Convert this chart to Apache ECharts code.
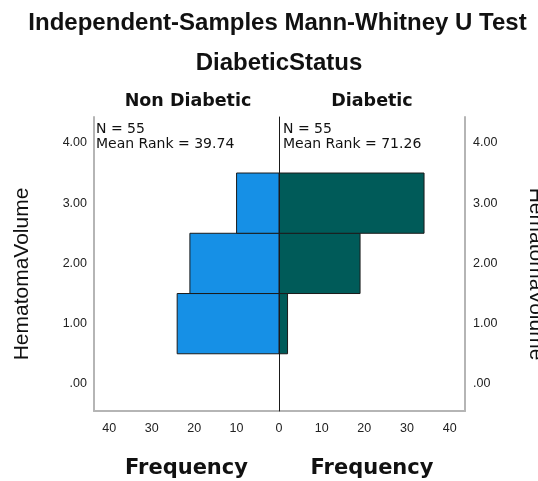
<!DOCTYPE html>
<html>
<head>
<meta charset="utf-8">
<script src="https://cdn.jsdelivr.net/npm/echarts@6/dist/echarts.min.js"></script>
<style>html,body{margin:0;padding:0;background:#fff;}#c{width:538px;height:481px;}</style>
</head>
<body>
<div id="c"></div>
<script>
// Data
var volumes = [1, 2, 3];                 // HematomaVolume categories (bar centres)
var nonDiabeticFreq = [24, 21, 10];      // Non Diabetic frequencies
var diabeticFreq = [2, 19, 34];          // Diabetic frequencies
var yTickValues = [0, 1, 2, 3, 4];
var groupNames = ['Non Diabetic', 'Diabetic'];
var groupN = [55, 55];
var meanRanks = ['39.74', '71.26'];

var FONT = "'Liberation Sans', Arial, sans-serif";
var WIDE = "'DejaVu Sans', 'Liberation Sans', sans-serif";
var chart = echarts.init(document.getElementById('c'));

function makeData(freqs) {
  return volumes.map(function (v, i) { return [freqs[i], v]; });
}
function makeRender(color) {
  return function (params, api) {
    var f = api.value(0), v = api.value(1);
    var p1 = api.coord([0, v + 0.5]);
    var p2 = api.coord([f, v - 0.5]);
    var x = Math.min(p1[0], p2[0]);
    return {
      type: 'rect',
      shape: { x: x, y: p1[1], width: Math.abs(p2[0] - p1[0]), height: p2[1] - p1[1] },
      style: { fill: color, stroke: '#1b1b1b', lineWidth: 1 }
    };
  };
}

var YMIN = -0.45, YMAX = 4.43, XMAX = 43.6;
var grey = '#b5b5b5';
var yLabel = {
  customValues: yTickValues, color: '#222', fontSize: 12.5, fontFamily: FONT, margin: 7,
  formatter: function (v) { return v === 0 ? '.00' : v.toFixed(2); }
};
var nameStyleX = { fontSize: 21, fontWeight: 'bold', color: '#111', fontFamily: WIDE };

chart.setOption({
  animation: false,
  grid: [
    { left: 94, width: 185, top: 117, height: 294, outerBoundsMode: 'none', containLabel: false },
    { left: 279, width: 186, top: 117, height: 294, outerBoundsMode: 'none', containLabel: false }
  ],
  xAxis: [
    { type: 'value', gridIndex: 0, inverse: true, min: 0, max: XMAX, interval: 10,
      axisLine: { show: true, onZero: false, lineStyle: { color: grey, width: 2 } },
      axisTick: { show: false }, splitLine: { show: false },
      axisLabel: { color: '#222', fontSize: 12.5, fontFamily: FONT, margin: 11,
        formatter: function (v) { return (v % 10 === 0) ? String(v) : ''; } },
      name: 'Frequency', nameLocation: 'middle', nameGap: 47, nameTextStyle: nameStyleX },
    { type: 'value', gridIndex: 1, min: 0, max: XMAX, interval: 10,
      axisLine: { show: true, onZero: false, lineStyle: { color: grey, width: 2 } },
      axisTick: { show: false }, splitLine: { show: false },
      axisLabel: { color: '#222', fontSize: 12.5, fontFamily: FONT, margin: 11,
        formatter: function (v) { return (v !== 0 && v % 10 === 0) ? String(v) : ''; } },
      name: 'Frequency', nameLocation: 'middle', nameGap: 47, nameTextStyle: nameStyleX }
  ],
  yAxis: [
    { type: 'value', gridIndex: 0, position: 'left', min: YMIN, max: YMAX,
      axisLine: { show: true, onZero: false, lineStyle: { color: grey, width: 2 } },
      axisTick: { show: false }, splitLine: { show: false }, axisLabel: yLabel,
      name: 'HematomaVolume', nameLocation: 'middle', nameRotate: 90, nameGap: 61,
      nameTextStyle: { fontSize: 21, color: '#111', fontFamily: FONT, padding: [0, 20, 0, 0] } },
    { type: 'value', gridIndex: 1, position: 'left', min: YMIN, max: YMAX, z: 10,
      axisLine: { show: true, onZero: false, lineStyle: { color: '#1a1a1a', width: 1 } },
      axisTick: { show: false }, splitLine: { show: false }, axisLabel: { show: false } },
    { type: 'value', gridIndex: 1, position: 'right', min: YMIN, max: YMAX,
      axisLine: { show: true, onZero: false, lineStyle: { color: grey, width: 2 } },
      axisTick: { show: false }, splitLine: { show: false },
      axisLabel: Object.assign({}, yLabel, { margin: 8 }),
      name: 'HematomaVolume', nameLocation: 'middle', nameRotate: -90, nameGap: 60,
      nameTextStyle: { fontSize: 21, color: '#111', fontFamily: FONT, padding: [0, 0, 0, 20] } }
  ],
  series: [
    { type: 'custom', xAxisIndex: 0, yAxisIndex: 0, data: makeData(nonDiabeticFreq),
      encode: { x: 0, y: 1 }, renderItem: makeRender('#1690e6'), z: 2 },
    { type: 'custom', xAxisIndex: 1, yAxisIndex: 1, data: makeData(diabeticFreq),
      encode: { x: 0, y: 1 }, renderItem: makeRender('#005b59'), z: 1 }
  ],
  graphic: [
    { type: 'text', x: 277.5, y: 23, style: { text: 'Independent-Samples Mann-Whitney U Test', align: 'center', verticalAlign: 'middle', font: 'bold 24px ' + FONT, fill: '#111' } },
    { type: 'text', x: 279, y: 63, style: { text: 'DiabeticStatus', align: 'center', verticalAlign: 'middle', font: 'bold 24px ' + FONT, fill: '#111' } },
    { type: 'text', x: 188, y: 101, style: { text: groupNames[0], align: 'center', verticalAlign: 'middle', font: 'bold 17.5px ' + WIDE, fill: '#111' } },
    { type: 'text', x: 372, y: 101, style: { text: groupNames[1], align: 'center', verticalAlign: 'middle', font: 'bold 17.5px ' + WIDE, fill: '#111' } },
    { type: 'text', x: 96, y: 122, style: { text: 'N = ' + groupN[0] + '\nMean Rank = ' + meanRanks[0], font: '14px ' + WIDE, fill: '#111', lineHeight: 15 } },
    { type: 'text', x: 283, y: 122, style: { text: 'N = ' + groupN[1] + '\nMean Rank = ' + meanRanks[1], font: '14px ' + WIDE, fill: '#111', lineHeight: 15 } }
  ]
});
</script>
</body>
</html>
